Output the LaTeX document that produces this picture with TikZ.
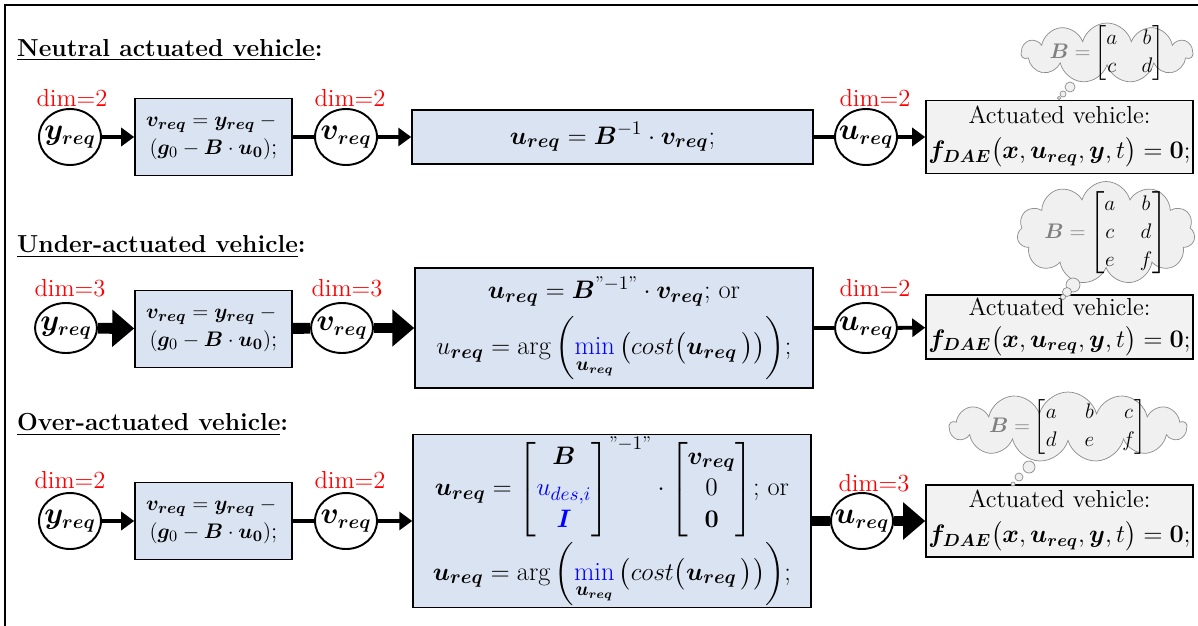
\documentclass[tikz,border=0pt]{standalone}
\usepackage{amsmath, amssymb, bm}
\usepackage{fontspec}
\usepackage{xcolor}
\definecolor{calcBlue}{RGB}{218,227,241}
\definecolor{plantGray}{RGB}{242,242,242}
\definecolor{cloudFill}{RGB}{240,240,240}
\definecolor{cloudLine}{RGB}{140,140,140}
\usetikzlibrary{shapes.geometric, shapes.symbols, arrows.meta}

% bold signals
\newcommand{\yreq}{\bm{y}_{\bm{req}}}
\newcommand{\vreq}{\bm{v}_{\bm{req}}}
\newcommand{\ureq}{\bm{u}_{\bm{req}}}
\newcommand{\qinv}{\text{"}{-1}\text{"}}
\newcommand{\bmin}{\mathop{\textcolor{blue}{\min}}\limits_{\ureq}}
\newcommand{\fdae}{$\bm{f}_{\bm{DAE}}\bigl(\bm{x},\ureq,\bm{y},t\bigr) = \bm{0}$;}

\tikzset{
  signal/.style={ellipse, draw, line width=1.1pt, inner sep=-4pt,
    minimum width=1.24cm, minimum height=1.12cm, font=\fontsize{16}{19}\selectfont},
  calc/.style={draw, line width=0.9pt, fill=calcBlue, align=center, inner sep=1pt},
  plant/.style={draw, line width=0.9pt, fill=plantGray, align=center, inner sep=1pt,
    minimum width=5.34cm},
  dimlbl/.style={text=red},
  thinflow/.style={line width=2.2pt},
  thickflow/.style={line width=6.2pt},
  thinarr/.style={thinflow, -{Triangle[length=0.26cm, width=0.36cm]}},
  thickarr/.style={thickflow, -{Triangle[length=0.44cm, width=0.72cm]}},
  thought/.style={cloud, cloud puffs=11, cloud ignores aspect, draw=cloudLine,
    fill=cloudFill, inner sep=0pt},
  bubble/.style={draw=cloudLine, fill=cloudFill, thin},
  matlbl/.style={font=\fontsize{13}{16}\selectfont}
}

\begin{document}
\begin{tikzpicture}[x=0.02cm, y=-0.02cm, font=\fontsize{14}{17}\selectfont]
  \useasboundingbox (0,0) rectangle (1198,626);
  \draw[line width=1.5pt] (5,626) -- (5,5) -- (1198,5);

  % Headings
  \node[anchor=west] (t1) at (11,50) {\underline{\textbf{Neutral actuated vehicle}}\textbf{:}};
  \node[anchor=west] (t2) at (11,247) {\underline{\textbf{Under-actuated vehicle}}\textbf{:}};
  \node[anchor=west] (t3) at (11,425) {\underline{\textbf{Over-actuated vehicle}}\textbf{:}};

  % Dimension labels
  \node[dimlbl] (d11) at (72,98) {dim=2};
  \node[dimlbl] (d12) at (350,98) {dim=2};
  \node[dimlbl] (d13) at (875,98) {dim=2};
  \node[dimlbl] (d21) at (70,288) {dim=3};
  \node[dimlbl] (d22) at (347,288) {dim=3};
  \node[dimlbl] (d23) at (875,288) {dim=2};
  \node[dimlbl] (d31) at (70,480) {dim=2};
  \node[dimlbl] (d32) at (350,480) {dim=2};
  \node[dimlbl] (d33) at (874,483) {dim=3};

  % Neutral actuated row
  \node[signal] (y1) at (70,137) {$\yreq$};
  \node[calc, minimum width=3.14cm, minimum height=1.54cm, font=\fontsize{13}{16}\selectfont]
    (c1) at (213.5,137) {$\vreq = \yreq -{}$\\ $(\bm{g}_0 - \bm{B}\cdot\bm{u_0})$;};
  \node[signal] (v1) at (346,137) {$\vreq$};
  \node[calc, minimum width=8.02cm, minimum height=1.08cm, font=\fontsize{15}{18}\selectfont]
    (s1) at (612.5,137) {$\ureq = \bm{B}^{-1}\cdot\vreq$;};
  \node[signal] (u1) at (866,137) {$\ureq$};
  \node[plant, minimum height=1.46cm] (p1) at (1059.5,137) {Actuated vehicle:\\[3pt] \fdae};

  \draw[thinarr] (y1) -- (c1);
  \draw[thinflow] (c1) -- (v1);
  \draw[thinarr] (v1) -- (s1);
  \draw[thinflow] (s1) -- (u1);
  \draw[thinarr] (u1) -- (p1);

  % Under-actuated row
  \node[signal, minimum height=1.0cm] (y2) at (66,328) {$\yreq$};
  \node[calc, minimum width=3.14cm, minimum height=1.54cm, font=\fontsize{13}{16}\selectfont]
    (c2) at (213.5,329) {$\vreq = \yreq -{}$\\ $(\bm{g}_0 - \bm{B}\cdot\bm{u_0})$;};
  \node[signal, minimum height=1.0cm] (v2) at (342,328) {$\vreq$};
  \node[calc, minimum width=7.96cm, minimum height=2.4cm, font=\fontsize{15}{18}\selectfont]
    (s2) at (614,328)
    {$\ureq = \bm{B}^{\qinv}\cdot\vreq$; or\\[5pt]
     $u_{\bm{req}} = \arg\left(\bmin\left(cost\bigl(\ureq\,\bigr)\right)\right)$;};
  \node[signal, minimum height=1.0cm] (u2) at (866,328) {$\ureq$};
  \node[plant, minimum height=1.28cm] (p2) at (1059.5,327) {Actuated vehicle:\\[1pt] \fdae};

  \draw[thickarr] (y2) -- (c2);
  \draw[thickflow] (c2) -- (v2);
  \draw[thickarr] (v2) -- (s2);
  \draw[thinflow] (s2) -- (u2);
  \draw[thinarr] (u2) -- (p2);

  % Over-actuated row
  \node[signal] (y3) at (70,521) {$\yreq$};
  \node[calc, minimum width=3.14cm, minimum height=1.54cm, font=\fontsize{13}{16}\selectfont]
    (c3) at (213.5,521) {$\vreq = \yreq -{}$\\ $(\bm{g}_0 - \bm{B}\cdot\bm{u_0})$;};
  \node[signal] (v3) at (346,521) {$\vreq$};
  \node[calc, minimum width=7.96cm, minimum height=3.46cm, font=\fontsize{15}{18}\selectfont]
    (s3) at (612,521)
    {$\ureq = \begin{bmatrix} \bm{B}\\ \textcolor{blue}{u_{des,i}}\\ \textcolor{blue}{\bm{I}} \end{bmatrix}^{\qinv}
      \cdot \begin{bmatrix} \vreq\\ 0\\ \bm{0} \end{bmatrix}$; or\\[2pt]
     $\ureq = \arg\left(\bmin\left(cost\bigl(\ureq\,\bigr)\right)\right)$;};
  \node[signal] (u3) at (862,521) {$\ureq$};
  \node[plant, minimum height=1.44cm] (p3) at (1059.5,521) {Actuated vehicle:\\[3pt] \fdae};

  \draw[thinarr] (y3) -- (c3);
  \draw[thinflow] (c3) -- (v3);
  \draw[thinarr] (v3) -- (s3);
  \draw[thickflow] (s3) -- (u3);
  \draw[thickarr] (u3) -- (p3);

  % Thought clouds with B
  \node[thought, minimum width=3.42cm, minimum height=1.2cm] (k1) at (1107,53) {};
  \node[thought, minimum width=3.56cm, minimum height=2.06cm] (k2) at (1106,233) {};
  \node[thought, cloud puffs=13, minimum width=4.74cm, minimum height=1.4cm] (k3) at (1068,427) {};
  \node[matlbl] (b1) at (k1) {\arraycolsep=7pt $\textcolor{gray}{\bm{B} =} \begin{bmatrix} a & b\\ c & d \end{bmatrix}$};
  \node[matlbl] (b2) at (k2) {\arraycolsep=7pt $\textcolor{gray}{\bm{B} =} \begin{bmatrix} a & b\\ c & d\\ e & f \end{bmatrix}$};
  \node[matlbl] (b3) at (k3) {\arraycolsep=8pt $\textcolor{gray}{\bm{B} =} \begin{bmatrix} a & b & c\\ d & e & f \end{bmatrix}$};

  \draw[bubble] (1070,87) circle (0.1cm);
  \draw[bubble] (1063,94) circle (0.06cm);
  \draw[bubble] (1059,98) circle (0.035cm);
  \draw[bubble] (1073,285) circle (0.14cm);
  \draw[bubble] (1067,292) circle (0.09cm);
  \draw[bubble] (1063,297) circle (0.05cm);
  \draw[bubble] (1029,467) circle (0.12cm);
  \draw[bubble] (1019,477) circle (0.08cm);
  \draw[bubble] (1013,484) circle (0.04cm);
\end{tikzpicture}
\end{document}
